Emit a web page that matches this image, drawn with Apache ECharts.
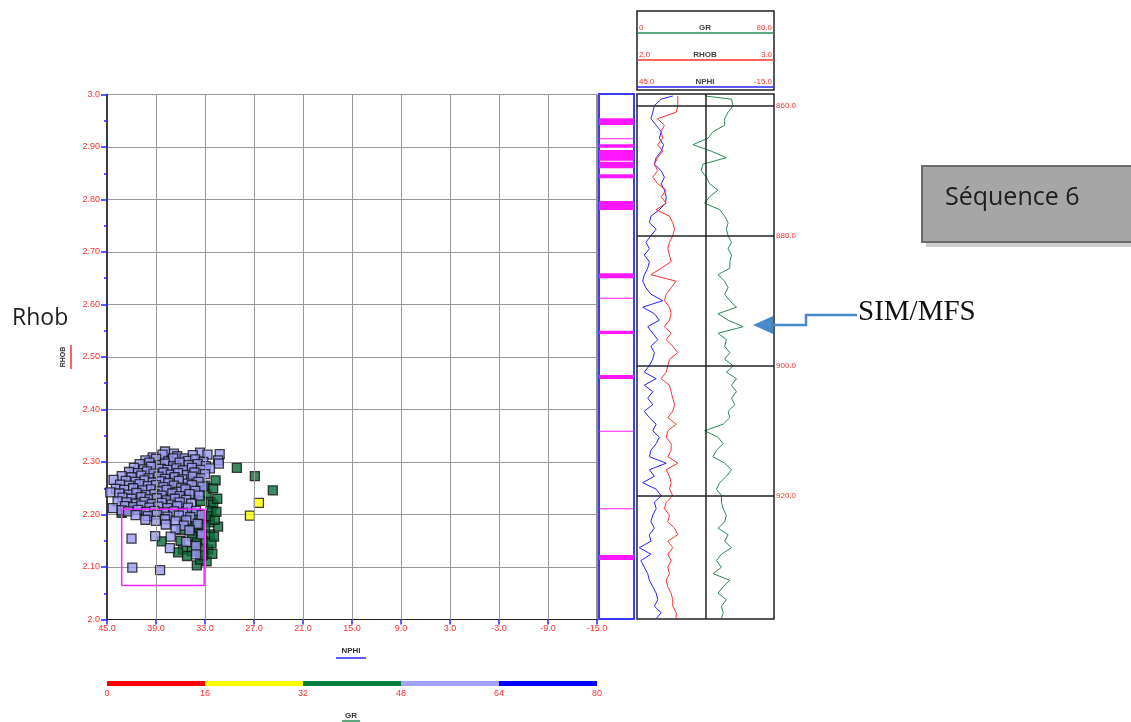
<!DOCTYPE html>
<html><head><meta charset="utf-8">
<script src="https://cdn.jsdelivr.net/npm/echarts@6/dist/echarts.min.js"></script>
<style>html,body{margin:0;padding:0;background:#fff}#c{width:1131px;height:722px}</style>
</head><body><div id="c"></div>
<script>
// ---------- crossplot axes ----------
const nphiTicks = [-15, -9, -3, 3, 9, 15, 21, 27, 33, 39, 45];
const rhobRange = [2.0, 3.0];
const grBreaks = [0, 16, 32, 48, 64, 80];
const grColors = ['#ff0000', '#ffff00', '#007f3f', '#a0a0ff', '#0000ff'];

// ---------- crossplot points [NPHI, RHOB] by GR class ----------
const ptsGR16to32 = [[26.4, 2.222], [27.5, 2.198]];
const ptsGR32to48 = [
  [37.2,2.285],[36.1,2.300],[35.0,2.278],[34.2,2.292],[36.5,2.262],[35.3,2.250],[33.9,2.270],[33.0,2.255],
  [38.4,2.245],[37.0,2.240],[35.7,2.232],[34.4,2.240],[32.8,2.238],[32.3,2.224],[33.5,2.226],[36.4,2.215],
  [38.1,2.229],[36.9,2.225],[39.3,2.238],[40.6,2.255],[41.8,2.222],[42.5,2.210],[43.2,2.203],[39.8,2.272],
  [38.0,2.300],[38.9,2.229],
  [32.0,2.219],[32.2,2.206],[32.4,2.185],[31.4,2.177],[33.9,2.168],[32.4,2.162],[34.6,2.159],[35.9,2.171],
  [38.3,2.149],[33.2,2.149],[34.0,2.147],[32.6,2.133],[35.7,2.133],[34.6,2.130],[32.8,2.111],[34.0,2.103],
  [33.6,2.114],[35.2,2.121],[36.3,2.128],[33.1,2.195],[34.4,2.200],[35.2,2.190],[33.7,2.180],[32.5,2.197],
  [31.8,2.190],[33.4,2.135],[32.2,2.145],[33.0,2.175],[34.8,2.175],[36.0,2.150],[31.9,2.158],[33.3,2.122],
  [32.1,2.125],[31.6,2.205],[31.5,2.230],[32.0,2.250],[31.7,2.265],
  [29.1,2.289],[26.9,2.273],[24.7,2.246]
];
const ptsGR48to64 = [
  [37.9,2.320],[36.8,2.316],[33.6,2.318],[32.7,2.314],
  [39.4,2.309],[38.2,2.314],[36.4,2.311],[35.5,2.307],[34.5,2.313],[31.2,2.315],
  [40.3,2.303],[39.0,2.306],[37.5,2.301],[36.9,2.307],[35.1,2.302],[34.2,2.305],[33.2,2.300],[31.4,2.303],
  [41.0,2.296],[39.8,2.299],[38.7,2.294],[37.9,2.297],[36.9,2.292],[36.1,2.299],[35.0,2.294],[33.9,2.296],[32.9,2.292],[31.3,2.297],
  [41.7,2.289],[40.5,2.286],[39.6,2.291],[38.4,2.287],[37.6,2.285],[36.5,2.288],[35.7,2.284],[34.6,2.289],[33.5,2.285],[32.4,2.288],
  [42.3,2.281],[41.2,2.279],[40.1,2.282],[39.3,2.278],[38.1,2.280],[37.2,2.276],[36.3,2.279],[35.2,2.275],[34.3,2.280],[33.0,2.277],
  [43.2,2.273],[42.0,2.271],[40.8,2.274],[39.9,2.269],[38.7,2.272],[37.9,2.268],[36.7,2.271],[35.8,2.267],[34.5,2.272],[33.5,2.269],
  [44.2,2.266],[42.7,2.264],[41.5,2.262],[40.4,2.265],[39.4,2.261],[38.4,2.263],[37.5,2.260],[36.2,2.264],[35.1,2.259],[33.8,2.262],
  [43.4,2.257],[42.3,2.255],[41.0,2.258],[40.0,2.254],[39.0,2.256],[38.1,2.252],[36.8,2.255],[35.9,2.251],[34.6,2.256],[33.3,2.253],
  [43.9,2.249],[42.9,2.247],[41.8,2.250],[40.6,2.246],[39.6,2.248],[38.6,2.244],[37.7,2.247],[36.4,2.243],[35.4,2.248],[34.2,2.245],
  [44.6,2.242],[43.5,2.240],[42.3,2.238],[41.4,2.241],[40.2,2.237],[39.2,2.239],[38.3,2.236],[37.0,2.240],[36.1,2.235],[34.9,2.239],[33.7,2.236],
  [43.1,2.232],[42.0,2.230],[40.8,2.233],[39.8,2.229],[38.9,2.231],[37.7,2.227],[36.7,2.230],[35.3,2.228],
  [43.7,2.225],[42.6,2.223],[41.4,2.221],[40.4,2.224],[39.5,2.220],[38.3,2.222],[37.1,2.219],[36.1,2.223],[34.7,2.221],
  [42.8,2.216],[41.8,2.214],[40.8,2.217],[39.8,2.213],[38.7,2.215],[37.6,2.212],[36.4,2.216],[35.1,2.213],
  [44.3,2.212],[43.2,2.208],[42.4,2.206],[41.2,2.209],[40.2,2.205],[39.2,2.207],[38.0,2.204],[36.8,2.206],[35.7,2.203],[34.1,2.207],
  [41.5,2.199],[40.0,2.197],[38.9,2.200],[37.6,2.196],[36.2,2.198],[34.8,2.195],[33.4,2.199],
  [40.3,2.190],[39.0,2.188],[37.9,2.191],[36.6,2.187],[35.3,2.189],
  [37.8,2.181],[35.6,2.179],[33.9,2.182],[36.6,2.172],[34.9,2.170],
  [42.0,2.154],[41.9,2.099],[38.5,2.094],[39.1,2.159],[37.2,2.158],[37.3,2.136],[35.3,2.148],[34.1,2.140],[34.1,2.124],[33.4,2.162]
];
const selBoxNphi = [43.2, 33.1];
const selBoxRhob = [2.065, 2.21];

// ---------- well log (depth in m) ----------
const depthRange = [858.2, 938.97];
const depthTicks = [860, 880, 900, 920];
const depths = [858.5,
  859,860,861,862,863,864,865,866,867,868,
  869,870,871,872,873,874,875,876,877,878,
  879,880,881,882,883,884,885,886,887,888,
  889,890,891,892,893,894,895,896,897,898,
  899,900,901,902,903,904,905,906,907,908,
  909,910,911,912,913,914,915,916,917,918,
  919,920,921,922,923,924,925,926,927,928,
  929,930,931,932,933,934,935,936,937,938, 938.9];
const nphiLog = [29.3,
  34.4,37.4,38.1,38.9,36.6,34.4,35.2,33.4,34.4,36.6,
  37.4,34.4,33.0,34.4,33.0,32.2,32.5,35.2,38.9,39.6,
  36.6,38.9,41.1,39.6,41.8,39.6,40.3,41.8,42.5,41.1,
  38.9,33.7,42.5,37.4,35.2,40.3,38.1,35.9,38.9,37.4,
  38.1,39.6,41.8,36.6,41.8,38.1,40.3,38.1,41.8,39.6,
  36.6,38.1,35.2,36.6,38.9,39.6,32.2,39.6,37.4,42.5,
  36.6,34.4,37.4,36.6,38.1,38.9,37.4,39.6,38.9,44.0,
  38.9,43.3,41.8,40.3,39.6,38.1,36.6,35.9,37.4,34.4, 36.6];
const rhobLog = [2.298,
  2.298,2.298,2.286,2.150,2.200,2.176,2.188,2.151,2.188,2.151,
  2.127,2.151,2.115,2.151,2.213,2.176,2.213,2.139,2.237,2.261,
  2.274,2.261,2.237,2.225,2.237,2.249,2.176,2.102,2.286,2.249,
  2.213,2.200,2.237,2.249,2.237,2.200,2.249,2.213,2.261,2.298,
  2.237,2.225,2.213,2.176,2.237,2.249,2.261,2.274,2.261,2.225,
  2.286,2.225,2.213,2.249,2.249,2.225,2.298,2.213,2.237,2.249,
  2.237,2.261,2.213,2.200,2.237,2.225,2.274,2.298,2.225,2.261,
  2.225,2.249,2.225,2.237,2.213,2.225,2.249,2.261,2.261,2.286, 2.286];
const grLog = [39.5,
  55.2,56.1,53.2,51.2,51.2,44.4,41.5,32.7,43.4,52.2,
  38.5,37.5,40.5,42.4,47.3,42.4,39.5,48.3,51.2,53.2,
  52.2,53.2,55.2,53.2,55.2,54.2,54.2,47.3,51.2,53.2,
  51.2,54.2,58.1,47.3,53.2,62.0,47.3,52.2,51.2,54.2,
  51.2,56.1,52.2,58.1,55.2,58.1,55.2,57.1,53.2,54.2,
  50.3,39.5,47.3,50.3,46.4,44.4,51.2,55.2,52.2,48.3,
  46.4,49.3,49.3,50.3,52.2,51.2,47.3,53.2,51.2,55.2,
  49.3,46.4,49.3,44.4,54.2,50.3,47.3,52.2,49.3,50.3, 49.3];
const faciesTop  = [861.94, 865.02, 865.94, 866.82, 868.62, 870.55, 874.66, 885.78, 889.54, 894.62, 901.43, 910.00, 921.94, 929.12];
const faciesBase = [862.97, 865.17, 866.46, 868.46, 869.63, 871.17, 876.05, 886.55, 889.69, 895.12, 902.05, 910.15, 922.09, 929.89];

// ---------- styles ----------
const RED = '#ff3030', BLUE = '#2424ff', GRN = '#2a8a55';
const lab = {color: RED, fontSize: 9, fontFamily: 'Liberation Sans'};

const chart = echarts.init(document.getElementById('c'), null, {renderer: 'canvas'});

const pairs = (xs, ys) => xs.map((v, i) => [v, ys[i]]);
const boxData = [[selBoxNphi[0], selBoxRhob[0]], [selBoxNphi[1], selBoxRhob[0]], [selBoxNphi[1], selBoxRhob[1]], [selBoxNphi[0], selBoxRhob[1]], [selBoxNphi[0], selBoxRhob[0]]];
const sq = c => ({type: 'scatter', xAxisIndex: 0, yAxisIndex: 0, symbol: 'rect', symbolSize: 9,
  itemStyle: {color: c, borderColor: '#111', borderWidth: 1.3}, silent: true});

const option = {
  animation: false,
  backgroundColor: '#fff',
  grid: [
    {left: 107, top: 94.5, width: 490, height: 525, show: true, borderColor: '#222', borderWidth: 1, containLabel: false},
    {left: 599, top: 94, width: 35, height: 525, show: true, borderColor: '#3a3aff', borderWidth: 2},
    {left: 637, top: 94, width: 137, height: 525, show: true, borderColor: '#222', borderWidth: 1.5},
    {left: 107, top: 681, width: 490, height: 5}
  ],
  xAxis: [
    {gridIndex: 0, type: 'value', min: -15, max: 45, inverse: true, position: 'bottom',
      axisLine: {show: true, onZero: false, lineStyle: {color: '#222'}},
      axisTick: {show: true, length: 5, lineStyle: {color: BLUE, width: 1.5}, customValues: nphiTicks},
      axisLabel: Object.assign({margin: 5, customValues: nphiTicks, formatter: v => v.toFixed(1)}, lab),
      splitLine: {show: false}},
    {gridIndex: 0, type: 'value', min: -15, max: 45, interval: 6, inverse: true, position: 'bottom',
      axisLine: {show: false, onZero: false}, axisLabel: {show: false}, splitLine: {show: false},
      axisTick: {show: true, length: 3, lineStyle: {color: BLUE, width: 1.5}}},
    {gridIndex: 1, type: 'value', min: 0, max: 1, show: false},
    {gridIndex: 2, type: 'value', min: 0, max: 80, show: false},
    {gridIndex: 2, type: 'value', min: 2.0, max: 3.0, show: false},
    {gridIndex: 2, type: 'value', min: -15, max: 45, inverse: true, show: false},
    {gridIndex: 3, type: 'value', min: 0, max: 80, interval: 16,
      axisLine: {show: false}, axisTick: {show: false}, splitLine: {show: false},
      axisLabel: Object.assign({margin: 3}, lab)}
  ],
  yAxis: [
    {gridIndex: 0, type: 'value', min: rhobRange[0], max: rhobRange[1], interval: 0.1,
      axisLine: {show: true, onZero: false, lineStyle: {color: '#222', width: 1.5}},
      axisTick: {show: true, length: 6, lineStyle: {color: BLUE, width: 1.5}},
      minorTick: {show: true, splitNumber: 2, length: 3, lineStyle: {color: BLUE, width: 1.5}},
      axisLabel: Object.assign({margin: 7, formatter: v => (Math.abs(v - 2) < 1e-6 || Math.abs(v - 3) < 1e-6) ? v.toFixed(1) : v.toFixed(2)}, lab),
      splitLine: {show: true, lineStyle: {color: '#999', width: 1}}},
    {gridIndex: 1, type: 'value', min: depthRange[0], max: depthRange[1], inverse: true, show: false},
    {gridIndex: 2, type: 'value', min: depthRange[0], max: depthRange[1], inverse: true, show: false},
    {gridIndex: 3, type: 'value', min: 0, max: 1, show: false}
  ],
  series: [
    Object.assign(sq('#0a6b38'), {name: 'GR 32-48', data: ptsGR32to48,
      markLine: {silent: true, symbol: 'none', animation: false, label: {show: false},
        lineStyle: {color: '#999', width: 1, type: 'solid'},
        data: nphiTicks.filter(v => v > -15 && v < 45).map(v => ({xAxis: v}))}}),
    Object.assign(sq('#9a9af0'), {name: 'GR 48-64', data: ptsGR48to64}),
    Object.assign(sq('#ffff00'), {name: 'GR 16-32', data: ptsGR16to32}),
    {type: 'line', xAxisIndex: 0, yAxisIndex: 0, data: boxData, symbol: 'none', silent: true,
      lineStyle: {color: '#ff22ff', width: 1.5}},
    // facies track
    {type: 'custom', xAxisIndex: 2, yAxisIndex: 1, silent: true,
      data: pairs(faciesTop, faciesBase), encode: {y: [0, 1]},
      renderItem: (params, api) => {
        const p1 = api.coord([0, api.value(0)]);
        const p2 = api.coord([1, api.value(1)]);
        return {type: 'rect', shape: {x: p1[0], y: p1[1], width: p2[0] - p1[0], height: Math.max(p2[1] - p1[1], 1)},
          style: {fill: '#ff18ff'}};
      }},
    // log curves
    {type: 'line', name: 'NPHI', xAxisIndex: 5, yAxisIndex: 2, data: pairs(nphiLog, depths), symbol: 'none', silent: true,
      lineStyle: {color: BLUE, width: 1}},
    {type: 'line', name: 'RHOB', xAxisIndex: 4, yAxisIndex: 2, data: pairs(rhobLog, depths), symbol: 'none', silent: true,
      lineStyle: {color: RED, width: 1}},
    {type: 'line', name: 'GR', xAxisIndex: 3, yAxisIndex: 2, data: pairs(grLog, depths), symbol: 'none', silent: true,
      lineStyle: {color: GRN, width: 1},
      markLine: {silent: true, symbol: 'none', animation: false,
        lineStyle: {color: '#222', width: 1.5, type: 'solid'},
        label: {show: true, position: 'end', distance: 2, color: RED, fontSize: 8, fontFamily: 'Liberation Sans',
          formatter: p => Number(p.value).toFixed(1)},
        data: depthTicks.map(d => ({yAxis: d})).concat([{xAxis: 40, label: {show: false}}])}},
    // GR colour bar
    {type: 'custom', xAxisIndex: 6, yAxisIndex: 3, silent: true,
      data: grColors.map((c, i) => [grBreaks[i], grBreaks[i + 1], i]), encode: {x: [0, 1]},
      renderItem: (params, api) => {
        const p1 = api.coord([api.value(0), 1]);
        const p2 = api.coord([api.value(1), 0]);
        return {type: 'rect', shape: {x: p1[0], y: p1[1], width: p2[0] - p1[0], height: p2[1] - p1[1]},
          style: {fill: grColors[api.value(2)]}};
      }}
  ],
  graphic: [
    // axis titles
    {type: 'text', left: 12, top: 307, style: {text: 'Rhob', font: '23px "Open Sans"', fill: '#1e1e1e'}},
    {type: 'text', x: 63, y: 357, rotation: Math.PI / 2,
      style: {text: 'RHOB', font: 'bold 7px "Liberation Sans"', fill: '#333', align: 'center', verticalAlign: 'middle'}},
    {type: 'line', shape: {x1: 71, y1: 345, x2: 71, y2: 369}, style: {stroke: RED, lineWidth: 1.5}},
    {type: 'text', x: 351, y: 651, style: {text: 'NPHI', font: 'bold 8px "Liberation Sans"', fill: '#333', align: 'center', verticalAlign: 'middle'}},
    {type: 'line', shape: {x1: 336, y1: 658, x2: 366, y2: 658}, style: {stroke: BLUE, lineWidth: 1.5}},
    {type: 'text', x: 351, y: 716, style: {text: 'GR', font: 'bold 8px "Liberation Sans"', fill: '#333', align: 'center', verticalAlign: 'middle'}},
    {type: 'line', shape: {x1: 342, y1: 721, x2: 360, y2: 721}, style: {stroke: GRN, lineWidth: 1.5}},
    // log header
    {type: 'rect', shape: {x: 637, y: 11, width: 137, height: 79}, style: {fill: 'none', stroke: '#222', lineWidth: 1.5}},
    {type: 'line', shape: {x1: 637, y1: 33, x2: 774, y2: 33}, style: {stroke: GRN, lineWidth: 1.5}},
    {type: 'line', shape: {x1: 637, y1: 60, x2: 774, y2: 60}, style: {stroke: RED, lineWidth: 1.5}},
    {type: 'line', shape: {x1: 637, y1: 87, x2: 774, y2: 87}, style: {stroke: BLUE, lineWidth: 1.5}},
    {type: 'text', x: 639, y: 28, style: {text: '0', font: '8px "Liberation Sans"', fill: RED, verticalAlign: 'middle'}},
    {type: 'text', x: 705, y: 28, style: {text: 'GR', font: 'bold 8px "Liberation Sans"', fill: '#444', align: 'center', verticalAlign: 'middle'}},
    {type: 'text', x: 772, y: 28, style: {text: '80.0', font: '8px "Liberation Sans"', fill: RED, align: 'right', verticalAlign: 'middle'}},
    {type: 'text', x: 639, y: 55, style: {text: '2.0', font: '8px "Liberation Sans"', fill: RED, verticalAlign: 'middle'}},
    {type: 'text', x: 705, y: 55, style: {text: 'RHOB', font: 'bold 8px "Liberation Sans"', fill: '#444', align: 'center', verticalAlign: 'middle'}},
    {type: 'text', x: 772, y: 55, style: {text: '3.0', font: '8px "Liberation Sans"', fill: RED, align: 'right', verticalAlign: 'middle'}},
    {type: 'text', x: 639, y: 82, style: {text: '45.0', font: '8px "Liberation Sans"', fill: RED, verticalAlign: 'middle'}},
    {type: 'text', x: 705, y: 82, style: {text: 'NPHI', font: 'bold 8px "Liberation Sans"', fill: '#444', align: 'center', verticalAlign: 'middle'}},
    {type: 'text', x: 772, y: 82, style: {text: '-15.0', font: '8px "Liberation Sans"', fill: RED, align: 'right', verticalAlign: 'middle'}},
    // Séquence box
    {type: 'rect', shape: {x: 926, y: 170, width: 210, height: 77}, style: {fill: '#cfcfcf'}},
    {type: 'rect', shape: {x: 922, y: 166, width: 212, height: 76}, style: {fill: '#a6a6a6', stroke: '#6b6b6b', lineWidth: 2}},
    {type: 'text', x: 945, y: 198, style: {text: 'Séquence 6', font: '25px "Open Sans"', fill: '#1e1e1e', verticalAlign: 'middle'}},
    // SIM/MFS annotation
    {type: 'text', x: 858, y: 312, style: {text: 'SIM/MFS', font: '29px "Liberation Serif"', fill: '#111', verticalAlign: 'middle'}},
    {type: 'polyline', shape: {points: [[857, 315], [806, 315], [806, 325], [772, 325]]}, style: {stroke: '#4a89c8', lineWidth: 2.5, fill: 'none'}},
    {type: 'polygon', shape: {points: [[773, 316], [773, 334], [753, 325]]}, style: {fill: '#4a89c8'}}
  ]
};
chart.setOption(option);
</script>
</body></html>
